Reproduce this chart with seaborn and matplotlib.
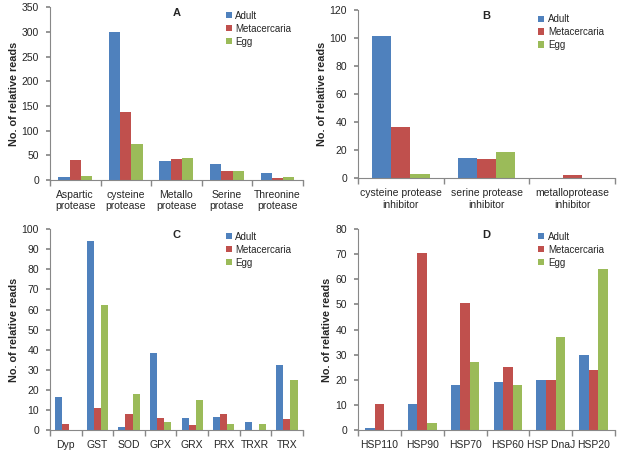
import numpy as np
import pandas as pd
import matplotlib
matplotlib.use("Agg")
import matplotlib.pyplot as plt
import seaborn as sns
from matplotlib.ticker import FixedLocator

series = ["Adult", "Metacercaria", "Egg"]
colors = ["#4F81BD", "#C0504D", "#9BBB59"]

a_cats = ["Aspartic\nprotease", "cysteine\nprotease", "Metallo\nprotease", "Serine\nprotase", "Threonine\nprotease"]
a_adult = [6, 300, 39, 32, 14]
a_meta = [41, 137, 42, 19, 4]
a_egg = [8, 72, 45, 18, 6]

b_cats = ["cysteine protease\ninhibitor", "serine protease\ninhibitor", "metalloprotease\ninhibitor"]
b_adult = [102, 14.5, 0]
b_meta = [36.5, 14, 2.5]
b_egg = [3, 19, 0]

c_cats = ["Dyp", "GST", "SOD", "GPX", "GRX", "PRX", "TRXR", "TRX"]
c_adult = [16.5, 94, 1.5, 38.5, 6, 6.5, 4, 32.5]
c_meta = [3, 11, 8, 6, 2.5, 8, 0, 5.5]
c_egg = [0, 62, 18, 4, 15, 3, 3, 25]

d_cats = ["HSP110", "HSP90", "HSP70", "HSP60", "HSP DnaJ", "HSP20"]
d_adult = [0.7, 10.5, 18, 19, 20, 30]
d_meta = [10.5, 70.5, 50.5, 25, 20, 24]
d_egg = [0, 3, 27, 18, 37, 64]

sns.set_theme(style="white")
plt.rcParams['font.family'] = ['Liberation Sans', 'DejaVu Sans']

fig = plt.figure(figsize=(6.21, 4.5), dpi=100)

panels = [
    ("A", a_cats, a_adult, a_meta, a_egg, 350, 50, [0.0805, 0.600, 0.407, 0.384]),
    ("B", b_cats, b_adult, b_meta, b_egg, 120, 20, [0.5765, 0.604, 0.414, 0.373]),
    ("C", c_cats, c_adult, c_meta, c_egg, 100, 10, [0.0805, 0.044, 0.407, 0.447]),
    ("D", d_cats, d_adult, d_meta, d_egg, 80, 10, [0.5765, 0.044, 0.414, 0.447]),
]

for letter, cats, ad, me, eg, ymax, step, rect in panels:
    ax = fig.add_axes(rect)
    df = pd.DataFrame({
        "cat": cats * 3,
        "series": [s for s in series for _ in cats],
        "value": list(ad) + list(me) + list(eg),
    })
    sns.barplot(data=df, x="cat", y="value", hue="series", hue_order=series,
                palette=colors, width=0.67, ax=ax, saturation=1,
                edgecolor="none", linewidth=0)
    n = len(cats)
    ax.set_xlim(-0.5, n - 0.5)
    ax.set_ylim(0, ymax)
    ax.set_yticks(np.arange(0, ymax + 1, step))
    ax.tick_params(axis="y", labelsize=7.5, length=3, direction="out", left=True,
                   color="#888888", pad=5)
    ax.tick_params(axis="x", which="major", length=0, labelsize=7.5, pad=7)
    ax.xaxis.set_minor_locator(FixedLocator(np.arange(-0.5, n, 1.0)))
    ax.tick_params(axis="x", which="minor", length=4, direction="out", bottom=True,
                   color="#888888")
    for sp in ["top", "right"]:
        ax.spines[sp].set_visible(False)
    for sp in ["left", "bottom"]:
        ax.spines[sp].set_color("#888888")
        ax.spines[sp].set_linewidth(0.8)
    ax.set_xlabel("")
    ax.set_ylabel("No. of relative reads", fontsize=7.8, fontweight="bold", labelpad=2)
    ax.text(0.5, 0.995, letter, transform=ax.transAxes, ha="center", va="top",
            fontsize=8, fontweight="bold")
    leg = ax.legend(frameon=False, loc="upper right", bbox_to_anchor=(0.99, 1.03),
                    fontsize=7, handlelength=0.6, handleheight=0.6,
                    handletextpad=0.4, labelspacing=0.3)
    leg.set_title(None)

fig.savefig("out.png", dpi=100)
